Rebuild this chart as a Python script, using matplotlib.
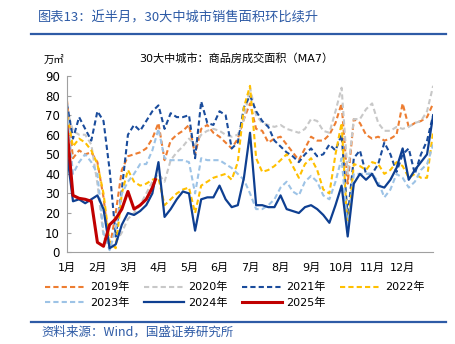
import numpy as np
import matplotlib
matplotlib.use("Agg")
import matplotlib.pyplot as plt
from matplotlib.lines import Line2D

plt.rcParams['font.family'] = ['DejaVu Sans', 'Noto Sans CJK SC']

# x positions in months since Jan 1 (sampled every 0.2 month)
months = [i * 0.2 for i in range(61)]
months_2025 = months[:15] + [2.9]
month_labels = ["1月", "2月", "3月", "4月", "5月", "6月",
                "7月", "8月", "9月", "10月", "11月", "12月"]

# 万㎡ (MA7)
y2019 = [78, 48, 52, 50, 51, 46, 28, 2, 20, 42, 49, 50, 51, 53, 58, 66, 47, 57, 60, 62,
         65, 50, 63, 65, 61, 59, 56, 53, 58, 68, 76, 63, 62, 56, 58, 59, 55, 51, 47, 53,
         59, 57, 57, 60, 66, 76, 35, 68, 66, 60, 58, 59, 57, 58, 60, 76, 64, 66, 67, 69, 76]
y2020 = [73, 62, 60, 60, 55, 35, 8, 3, 5, 10, 17, 20, 24, 30, 36, 40, 36, 47, 51, 54,
         58, 55, 60, 62, 63, 62, 60, 59, 60, 68, 84, 70, 66, 65, 64, 65, 63, 62, 61, 63,
         68, 67, 62, 61, 72, 84, 40, 68, 68, 73, 76, 66, 62, 62, 64, 63, 64, 66, 67, 72, 85]
y2021 = [76, 58, 69, 63, 57, 72, 67, 42, 8, 32, 60, 65, 62, 67, 72, 75, 63, 71, 69, 69,
         70, 48, 77, 66, 65, 72, 70, 53, 56, 74, 80, 72, 67, 64, 57, 54, 51, 49, 46, 50,
         53, 49, 50, 55, 52, 60, 18, 48, 52, 40, 40, 45, 56, 50, 41, 50, 53, 40, 50, 57, 70]
y2022 = [70, 54, 58, 56, 52, 45, 30, 5, 2, 30, 42, 36, 34, 35, 37, 38, 24, 27, 30, 32,
         33, 20, 34, 36, 38, 39, 40, 37, 46, 74, 85, 48, 41, 42, 44, 47, 50, 44, 38, 45,
         48, 42, 32, 30, 50, 66, 10, 45, 44, 42, 46, 45, 40, 42, 46, 44, 38, 40, 38, 38, 62]
y2023 = [72, 40, 46, 50, 46, 40, 10, 1, 12, 30, 36, 40, 45, 45, 52, 63, 48, 47, 47, 47,
         46, 30, 48, 47, 47, 47, 45, 43, 40, 37, 30, 22, 22, 24, 27, 33, 36, 31, 29, 36,
         39, 36, 29, 27, 36, 48, 12, 40, 40, 40, 40, 36, 28, 32, 40, 38, 33, 36, 42, 45, 55]
y2024 = [51, 26, 27, 25, 27, 29, 22, 2, 4, 14, 20, 19, 21, 24, 30, 46, 18, 22, 27, 31,
         30, 11, 27, 28, 28, 34, 27, 23, 24, 38, 61, 24, 24, 23, 23, 29, 22, 21, 20, 23,
         24, 22, 19, 15, 24, 34, 8, 35, 40, 37, 40, 34, 33, 37, 43, 53, 37, 42, 46, 50, 70]
y2025 = [64, 29, 27.5, 27, 26, 5, 3, 14, 17, 22, 31, 22, 24, 27, 33, 37]

series = [
    ("2019年", months, y2019, "#ED7D31", "--", 1.5),
    ("2020年", months, y2020, "#C8C8C8", "--", 1.5),
    ("2021年", months, y2021, "#1A4C9C", "--", 1.5),
    ("2022年", months, y2022, "#FFC000", "--", 1.5),
    ("2023年", months, y2023, "#9DC3E6", "--", 1.5),
    ("2024年", months, y2024, "#0E3F91", "-", 1.6),
    ("2025年", months_2025, y2025, "#C00000", "-", 2.2),
]

fig = plt.figure(figsize=(4.55, 3.44), dpi=100)
ax = fig.add_axes([0.147, 0.267, 0.805, 0.512])

handles = {}
for name, xs, vals, color, ls, lw in series:
    if ls == "--":
        ln, = ax.plot(xs, vals, color=color, lw=lw, ls=ls, dashes=(2.5, 1.5))
    else:
        ln, = ax.plot(xs, vals, color=color, lw=lw, ls=ls)
    handles[name] = ln

ax.set_xlim(0, 12)
ax.set_ylim(0, 90)
ax.set_yticks(range(0, 91, 10))
ax.set_xticks(range(12))
ax.set_xticklabels(month_labels)
ax.tick_params(axis='y', labelsize=8.5, length=3, direction='in',
               color="#A0A0A0", pad=5)
ax.tick_params(axis='x', labelsize=8, length=0, pad=8)
for s in ["top", "right"]:
    ax.spines[s].set_visible(False)
for s in ["left", "bottom"]:
    ax.spines[s].set_color("#A0A0A0")
    ax.spines[s].set_linewidth(0.8)

fig.text(0.52, 0.83, "30大中城市：商品房成交面积（MA7）", ha="center", va="center",
         fontsize=8)
fig.text(0.097, 0.825, "万㎡", fontsize=7.5, ha="left", va="center")

# legend fills column by column; order so rows read 2019..2022 / 2023..2025
order = ["2019年", "2023年", "2020年", "2024年", "2021年", "2025年", "2022年"]
fig.legend(handles=[handles[k] for k in order], labels=order, ncol=4,
           loc="upper left", bbox_to_anchor=(0.09, 0.193), frameon=False,
           fontsize=8, handlelength=3.6, handletextpad=0.4, columnspacing=1.3,
           labelspacing=0.45, borderaxespad=0)

blue = "#2E5BA6"
fig.text(0.083, 0.948, "图表13：近半月，30大中城市销售面积环比续升", color=blue,
         fontsize=9.5, style="italic", ha="left", va="center",
         family=['Noto Sans CJK SC', 'DejaVu Sans'])
fig.add_artist(Line2D([0.068, 0.98], [0.902, 0.902], color=blue, lw=1.6))
fig.add_artist(Line2D([0.068, 0.98], [0.064, 0.064], color=blue, lw=1.6))
fig.text(0.09, 0.035, "资料来源：Wind，国盛证券研究所", color=blue, fontsize=9,
         style="italic", ha="left", va="center",
         family=['Noto Sans CJK SC', 'DejaVu Sans'])

fig.savefig("out.png", dpi=100)
